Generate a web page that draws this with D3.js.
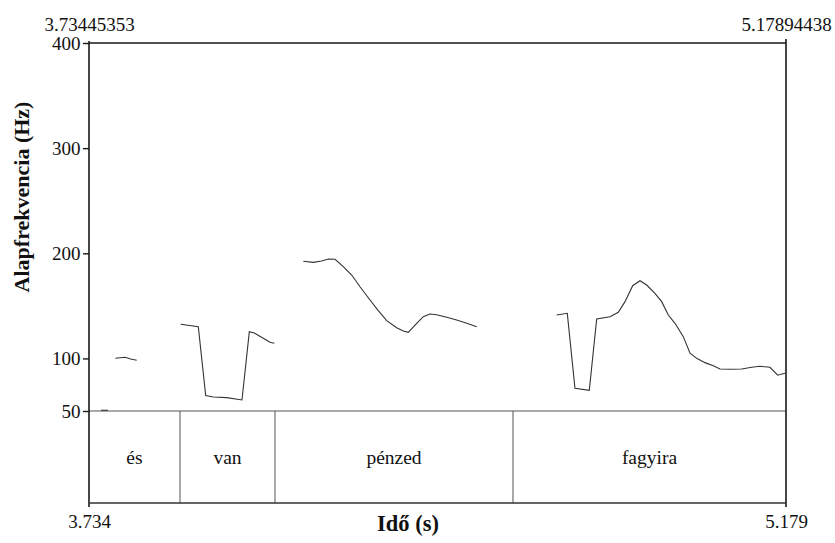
<!DOCTYPE html>
<html>
<head>
<meta charset="utf-8">
<script src="https://cdn.jsdelivr.net/npm/d3@7"></script>
<style>
  html, body { margin: 0; padding: 0; background: #fff; }
  svg { display: block; }
  svg text { font-family: 'Liberation Serif', 'Times New Roman', Times, 'DejaVu Serif', serif; }
</style>
</head>
<body>
<svg id="chart" width="835" height="543"></svg>
<script>
// ---- data ----
const timeStart = 3.73445353;
const timeEnd = 5.17894438;
const freqTicks = [50, 100, 200, 300, 400];

// pitch contour segments: [time (s), F0 (Hz)]
const segEs0 = [[3.7593, 50.7], [3.7738, 50.7]];
const segEs = [[3.7890, 100.1], [3.8091, 101.1], [3.8209, 99.5], [3.8333, 98.2]];
const segVan = [[3.9245, 132.5], [3.9610, 130.2], [3.9763, 64.6], [3.9921, 63.3],
  [4.0198, 62.7], [4.0515, 60.5], [4.0667, 125.4], [4.0770, 124.2],
  [4.0957, 119.1], [4.1096, 115.3], [4.1185, 114.4]];
const segPenzed = [[4.1786, 192.4], [4.1993, 191.4], [4.2167, 192.7], [4.2304, 194.6],
  [4.2443, 194.3], [4.2615, 187.3], [4.2789, 179.3], [4.2961, 168.2],
  [4.3168, 155.6], [4.3340, 145.4], [4.3514, 135.9], [4.3721, 129.2],
  [4.3858, 126.1], [4.3962, 124.8], [4.4136, 133.4], [4.4273, 139.7],
  [4.4411, 142.3], [4.4550, 141.6], [4.4758, 139.1], [4.4965, 136.5],
  [4.5172, 133.4], [4.5379, 130.2]];
const segFagyira = [[4.7037, 141.3], [4.7257, 142.9], [4.7416, 71.6], [4.7713, 69.7],
  [4.7866, 137.5], [4.8142, 139.7], [4.8314, 143.9], [4.8453, 154.0],
  [4.8612, 169.2], [4.8763, 173.9], [4.8902, 169.8], [4.9074, 161.9],
  [4.9213, 154.0], [4.9350, 141.3], [4.9489, 133.4], [4.9661, 120.7],
  [4.9800, 104.9], [4.9939, 100.1], [5.0111, 96.0], [5.0283, 93.1],
  [5.0421, 90.0], [5.0629, 89.7], [5.0871, 90.0], [5.1078, 91.6],
  [5.1250, 92.5], [5.1458, 91.6], [5.1617, 84.0], [5.1768, 85.9]];
const pitchSegments = [segEs0, segEs, segVan, segPenzed, segFagyira];

// text tier
const intervalBounds = [3.73445353, 3.92304, 4.11992, 4.61315, 5.17894438];
const intervalLabels = ["és", "van", "pénzed", "fagyira"];

// ---- drawing ----
const svg = d3.select("#chart");
const L = 89, R = 786, T = 43, B = 411, TB = 503;

const x = d3.scaleLinear().domain([timeStart, timeEnd]).range([L, R]);
const y = d3.scaleLinear().domain([50, 400]).range([B, T]);

// tier boxes
svg.append("g").selectAll("line")
  .data(intervalBounds.slice(1, -1))
  .join("line")
  .attr("x1", d => x(d)).attr("x2", d => x(d))
  .attr("y1", B).attr("y2", TB)
  .attr("stroke", "#555").attr("stroke-width", 1);

svg.append("g").selectAll("text")
  .data(intervalLabels)
  .join("text")
  .attr("x", (d, i) => (x(intervalBounds[i]) + x(intervalBounds[i + 1])) / 2)
  .attr("y", (B + TB) / 2)
  .attr("dy", "0.35em")
  .attr("text-anchor", "middle")
  .style("font-size", "19.5px")
  .attr("fill", "#111")
  .text(d => d);

// separating line between pitch area and tier
svg.append("line")
  .attr("x1", L).attr("x2", R).attr("y1", B).attr("y2", B)
  .attr("stroke", "#555").attr("stroke-width", 1.2);

// pitch contour
const line = d3.line().x(d => x(d[0])).y(d => y(d[1]));
svg.append("g").selectAll("path")
  .data(pitchSegments)
  .join("path")
  .attr("d", line)
  .attr("fill", "none")
  .attr("stroke", "#333")
  .attr("stroke-width", 1.1);

// frame
svg.append("path")
  .attr("d", `M${L},${T - 2}V${TB + 4}M${R},${T - 4}V${TB + 4}M${L},${T}H${R}`)
  .attr("fill", "none").attr("stroke", "#1a1a1a").attr("stroke-width", 1.6);
svg.append("line")
  .attr("x1", L).attr("x2", R).attr("y1", TB).attr("y2", TB)
  .attr("stroke", "#333").attr("stroke-width", 1.6);

// y axis
const yAxis = svg.append("g")
  .attr("transform", `translate(${L},0)`)
  .call(d3.axisLeft(y).tickValues(freqTicks).tickSize(6).tickSizeOuter(0).tickPadding(2.5));
yAxis.attr("font-family", null).attr("font-size", null);
yAxis.select(".domain").remove();
yAxis.selectAll("line").attr("stroke", "#1a1a1a").attr("stroke-width", 1.4);
yAxis.selectAll("text").style("font-size", "19px").attr("fill", "#111");

// top time labels
const topAxis = svg.append("g")
  .attr("transform", `translate(0,${T})`)
  .call(d3.axisTop(x).tickValues([timeStart, timeEnd]).tickFormat(d3.format(".8f"))
    .tickSize(0).tickPadding(12));
topAxis.attr("font-family", null).attr("font-size", null);
topAxis.select(".domain").remove();
topAxis.selectAll("text").style("font-size", "19px").attr("fill", "#111");

// bottom time labels
const botAxis = svg.append("g")
  .attr("transform", `translate(0,${TB})`)
  .call(d3.axisBottom(x).tickValues([timeStart, timeEnd]).tickFormat(d3.format(".3f"))
    .tickSize(0).tickPadding(11.5));
botAxis.attr("font-family", null).attr("font-size", null);
botAxis.select(".domain").remove();
botAxis.selectAll("text").style("font-size", "19px").attr("fill", "#111");

// axis titles
svg.append("text")
  .attr("x", 408).attr("y", 531)
  .attr("text-anchor", "middle")
  .style("font-weight", "bold").style("font-size", "22.5px")
  .attr("fill", "#111")
  .text("Idő (s)");

svg.append("text")
  .attr("transform", "translate(29,197) rotate(-90)")
  .attr("text-anchor", "middle")
  .style("font-weight", "bold").style("font-size", "22px")
  .attr("fill", "#111")
  .text("Alapfrekvencia (Hz)");
</script>
</body>
</html>
